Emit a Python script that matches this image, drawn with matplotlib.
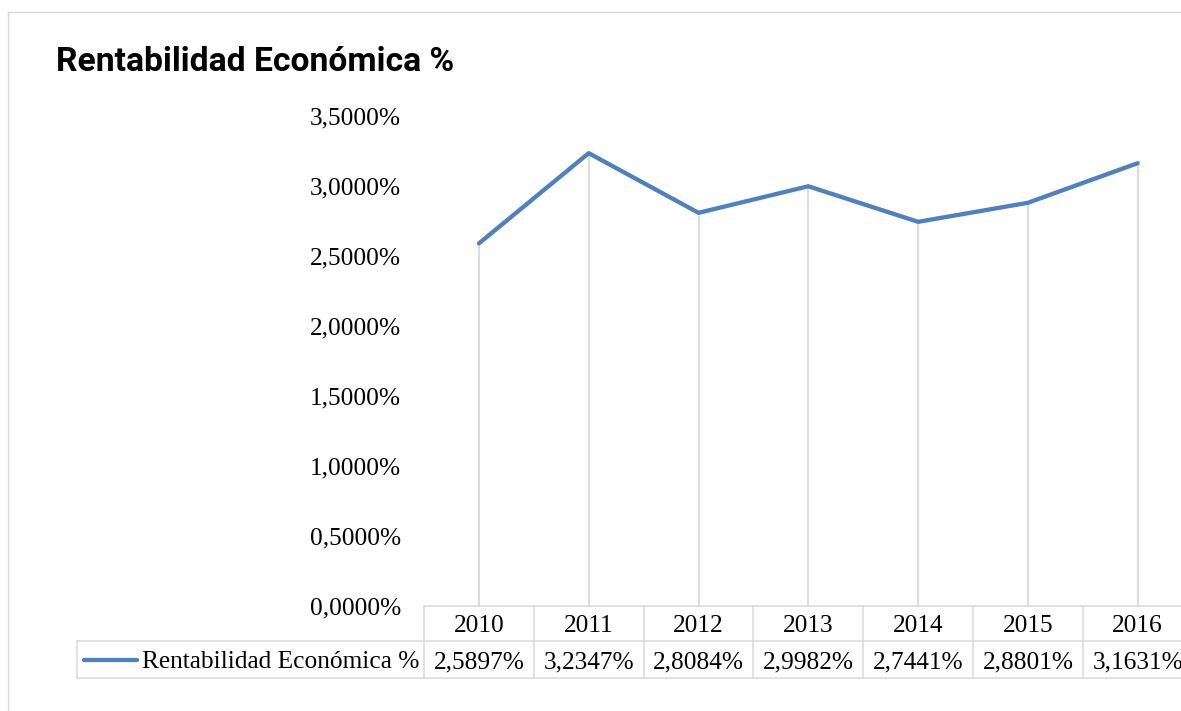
import matplotlib
matplotlib.use('Agg')
import matplotlib.pyplot as plt
from matplotlib.lines import Line2D
from matplotlib.transforms import blended_transform_factory

# -------------------------------------------------------------------------------------
# Data
years = ['2010', '2011', '2012', '2013', '2014', '2015', '2016']
rent_eco = [2.5897, 3.2347, 2.8084, 2.9982, 2.7441, 2.8801, 3.1631]
y_ticks = [0.0, 0.5, 1.0, 1.5, 2.0, 2.5, 3.0, 3.5]
series_name = 'Rentabilidad Económica %'
title = 'Rentabilidad Económica %'
# -------------------------------------------------------------------------------------

W, H = 1181, 711
line_col = '#4f81bd'
grid_col = '#d9d9d9'
serif = 'Liberation Serif'


def fy(py):
    # pixel row measured from the top -> figure fraction
    return 1 - py / H


def pct(v):
    return ('%.4f%%' % v).replace('.', ',')


fig = plt.figure(figsize=(W / 100, H / 100), dpi=100)
n = len(years)
x0, step = 424, 109.8
ax = fig.add_axes([x0 / W, fy(606), n * step / W, fy(116) - fy(606)])

xs = list(range(n))
ax.vlines(xs, 0, rent_eco, color=grid_col, lw=1.3, zorder=1)
ax.plot(xs, rent_eco, color=line_col, lw=3.1, solid_capstyle='round',
        solid_joinstyle='round', zorder=3)

ax.set_xlim(-0.5, n - 0.5)
ax.set_ylim(0, 3.5)
ax.set_yticks(y_ticks)
ax.set_yticklabels([pct(t) for t in y_ticks], fontfamily=serif, fontsize=18.3)
ax.set_xticks([])
ax.tick_params(axis='y', length=0, pad=16.5)
for s in ax.spines.values():
    s.set_visible(False)

# data table under the plot
tr = blended_transform_factory(ax.transData, fig.transFigure)
lw_t = 1.1
ax.add_line(Line2D([-0.5, n - 0.5], [fy(606), fy(606)], transform=tr, color=grid_col,
                   lw=lw_t, clip_on=False))
for b in range(n + 1):
    ax.add_line(Line2D([b - 0.5, b - 0.5], [fy(606), fy(678)], transform=tr,
                       color=grid_col, lw=lw_t, clip_on=False))
for py in (641, 678):
    fig.add_artist(Line2D([77 / W, 1.05], [fy(py), fy(py)], color=grid_col, lw=lw_t))
fig.add_artist(Line2D([77 / W, 77 / W], [fy(641), fy(678)], color=grid_col, lw=lw_t))

for i, (yr, v) in enumerate(zip(years, rent_eco)):
    ax.text(i, fy(632), yr, transform=tr, ha='center', va='baseline',
            fontfamily=serif, fontsize=18.3, clip_on=False)
    ax.text(i, fy(668.5), pct(v), transform=tr, ha='center', va='baseline',
            fontfamily=serif, fontsize=18.3, clip_on=False)

# legend key inside the table
fig.add_artist(Line2D([84 / W, 137 / W], [fy(659.5), fy(659.5)], color=line_col,
                      lw=3.1, solid_capstyle='round'))
fig.text(142 / W, fy(668.5), series_name, ha='left', va='baseline',
         fontfamily=serif, fontsize=18.3)

# title
fig.text(56 / W, fy(70.7), title, ha='left', va='baseline', fontfamily='Roboto',
         fontweight='bold', fontsize=24.2)

# chart area border
fig.add_artist(Line2D([8 / W, 1.0], [fy(12), fy(12)], color=grid_col, lw=1))
fig.add_artist(Line2D([8 / W, 8 / W], [fy(12), 0], color=grid_col, lw=1))

fig.savefig('out.png', dpi=100)
